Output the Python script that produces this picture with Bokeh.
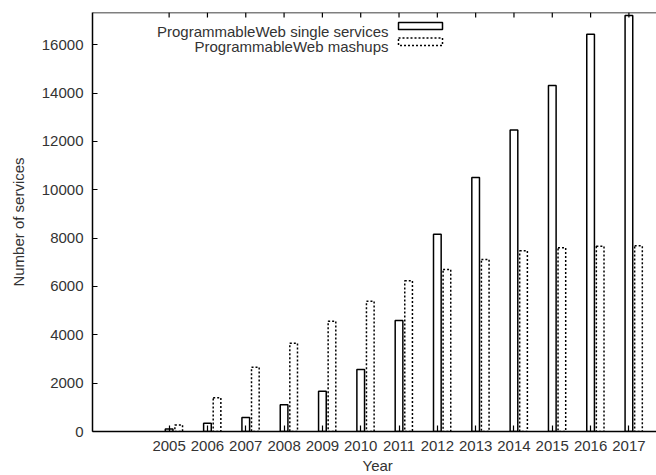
from bokeh.plotting import figure
from bokeh.models import Range1d, LinearAxis, FixedTicker, Title, Span
from bokeh.core.properties import value
from bokeh.embed import file_html
from bokeh.resources import INLINE

# ---- data ----
years = [2005, 2006, 2007, 2008, 2009, 2010, 2011, 2012, 2013, 2014, 2015, 2016, 2017]
single_services = [105, 345, 580, 1105, 1665, 2565, 4595, 8160, 10505, 12465, 14315, 16430, 17210]
mashups = [270, 1395, 2660, 3655, 4565, 5390, 6235, 6700, 7115, 7475, 7600, 7665, 7680]
y_ticks = [0, 2000, 4000, 6000, 8000, 10000, 12000, 14000, 16000]
legend_labels = ["ProgrammableWeb single services", "ProgrammableWeb mashups"]

FONT = "Liberation Sans"
TXT = "#333333"
DASH = "2 2"

W, H = 656, 475
FL, FR, FT, FB = 92, 656, 12, 431
XL, XR = 2003, 2017.72
YB, YT = 0, 17330

p = figure(width=W, height=H, output_backend="svg", toolbar_location=None,
           x_range=Range1d(XL, XR), y_range=Range1d(YB, YT),
           min_border_left=FL, min_border_right=W - FR, min_border_top=FT,
           min_border_bottom=H - FB, x_axis_location=None, y_axis_location=None)
p.outline_line_color = None
p.grid.visible = False
p.background_fill_color = "white"
p.border_fill_color = "white"


def px2x(px):
    return XL + (px - FL) / (FR - FL) * (XR - XL)


def py2y(py):
    return YB + (FB - py) / (FB - FT) * (YT - YB)


# axes
def style_axis(ax, tick_in):
    ax.major_tick_in = tick_in
    ax.major_tick_out = 0
    ax.minor_tick_in = 0
    ax.minor_tick_out = 0
    ax.axis_line_color = "black"
    ax.axis_line_width = 1.5
    ax.major_tick_line_color = "black"
    ax.major_tick_line_width = 1.2
    ax.major_label_text_font = FONT
    ax.major_label_text_font_size = "15px"
    ax.major_label_text_color = TXT
    ax.axis_label_text_font = FONT
    ax.axis_label_text_font_size = "15px"
    ax.axis_label_text_font_style = "normal"
    ax.axis_label_text_color = TXT


xb = LinearAxis(ticker=FixedTicker(ticks=years))
style_axis(xb, 6)
xb.major_label_standoff = 9
p.add_layout(xb, "below")

yl = LinearAxis(ticker=FixedTicker(ticks=y_ticks), axis_label="Number of services")
style_axis(yl, 5)
yl.major_label_standoff = 9
yl.axis_label_standoff = 12
p.add_layout(yl, "left")

# top border with mirrored ticks (gnuplot style)
p.add_layout(Span(location=YT, dimension="width", line_color="black", line_width=1.5))
p.segment(x0=years, x1=years, y0=[YT] * len(years), y1=[py2y(FT + 5)] * len(years),
          line_color="black", line_width=1.2)

# bars
offset = 0.25
bw = 0.2
p.vbar(x=years, top=single_services, bottom=0, width=bw, fill_color=None,
       line_color="black", line_width=1.5)
p.vbar(x=[y + offset for y in years], top=mashups, bottom=0, width=bw,
       fill_color=None, line_color="black", line_width=1.5, line_dash=DASH)

# legend (gnuplot style: text right-aligned, then sample)
p.text(x=[px2x(388)] * 2, y=[py2y(31), py2y(45.5)], text=legend_labels,
       text_align="right", text_baseline="alphabetic", text_font=value(FONT),
       text_font_size="15px", text_color=TXT)
p.quad(left=[px2x(398)], right=[px2x(442)], top=[py2y(22)], bottom=[py2y(29)],
       fill_color=None, line_color="black", line_width=1.5)
p.quad(left=[px2x(398)], right=[px2x(442)], top=[py2y(37.5)], bottom=[py2y(45)],
       fill_color=None, line_color="black", line_width=1.5, line_dash=DASH)

# x axis title, centred on full gnuplot plot width (which runs to 2018, off-window)
year_title = Title(text="Year", align="left", offset=270, standoff=2,
                   text_font=FONT, text_font_size="15px", text_font_style="normal",
                   text_color=TXT)
p.add_layout(year_title, "below")

open("out.html", "w").write(file_html(p, INLINE))
